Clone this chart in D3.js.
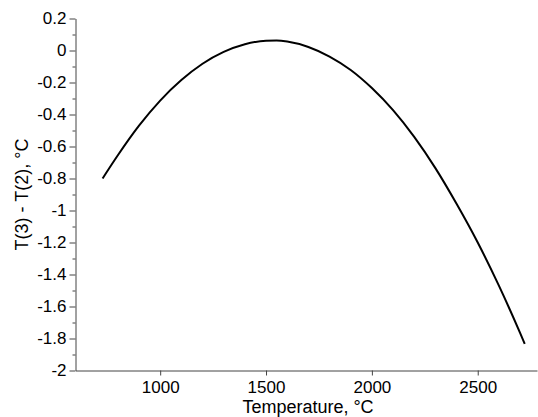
<!DOCTYPE html>
<html><head><meta charset="utf-8">
<script src="https://cdn.jsdelivr.net/npm/d3@7"></script>
<style>body{margin:0;background:#fff}svg{display:block}</style>
</head><body>
<script>
const temps = [728, 800, 900, 1000, 1100, 1200, 1300, 1400, 1500, 1550, 1600, 1700, 1800, 1900, 2000, 2100, 2200, 2300, 2400, 2500, 2600, 2700, 2722];
const diffs = [-0.80, -0.655, -0.470, -0.313, -0.185, -0.083, -0.009, 0.039, 0.061, 0.0625, 0.056, 0.022, -0.038, -0.122, -0.235, -0.373, -0.540, -0.735, -0.958, -1.200, -1.470, -1.765, -1.833];
const xTicks = [1000, 1500, 2000, 2500];
const yTicks = [0.2, 0, -0.2, -0.4, -0.6, -0.8, -1, -1.2, -1.4, -1.6, -1.8, -2];
const yMinor = [0.1, -0.1, -0.3, -0.5, -0.7, -0.9, -1.1, -1.3, -1.5, -1.7, -1.9];

const W = 538, H = 417;
const svg = d3.select("body").append("svg").attr("width", W).attr("height", H);
const x = d3.scaleLinear().domain([600, 2780]).range([75.5, 537]);
const y = d3.scaleLinear().domain([-2, 0.2]).range([370.5, 18.5]);
const font = "'Liberation Sans', Arial, sans-serif";

svg.append("g").attr("transform", `translate(0,${y(-2)})`)
  .call(d3.axisBottom(x).tickValues(xTicks).tickSize(5).tickSizeOuter(0).tickPadding(5).tickFormat(d3.format("d")));
svg.append("g").attr("transform", `translate(${x(600)},0)`)
  .call(d3.axisLeft(y).tickValues(yTicks).tickSize(6).tickSizeOuter(0).tickPadding(3).tickFormat(d => String(d)));
svg.append("g").attr("transform", `translate(${x(600)},0)`)
  .call(d3.axisLeft(y).tickValues(yMinor).tickSize(3).tickFormat(""))
  .call(g => g.select(".domain").remove());

svg.selectAll(".domain").attr("stroke", "#444");
svg.selectAll(".tick line").attr("stroke", "#444");
svg.selectAll(".tick text").attr("font-family", font).attr("font-size", 17).attr("fill", "#000");

const data = temps.map((t, i) => [t, diffs[i]]);
svg.append("path").datum(data)
  .attr("fill", "none").attr("stroke", "#000").attr("stroke-width", 2)
  .attr("d", d3.line().x(d => x(d[0])).y(d => y(d[1])).curve(d3.curveMonotoneX));

svg.append("text").attr("x", 308).attr("y", 413).attr("text-anchor", "middle")
  .attr("font-family", font).attr("font-size", 18).text("Temperature, °C");
svg.append("text").attr("transform", `translate(28,${(y(-2)+y(0.2))/2}) rotate(-90)`)
  .attr("text-anchor", "middle").attr("font-family", font).attr("font-size", 18)
  .text("T(3) - T(2), °C");
</script>
</body></html>
